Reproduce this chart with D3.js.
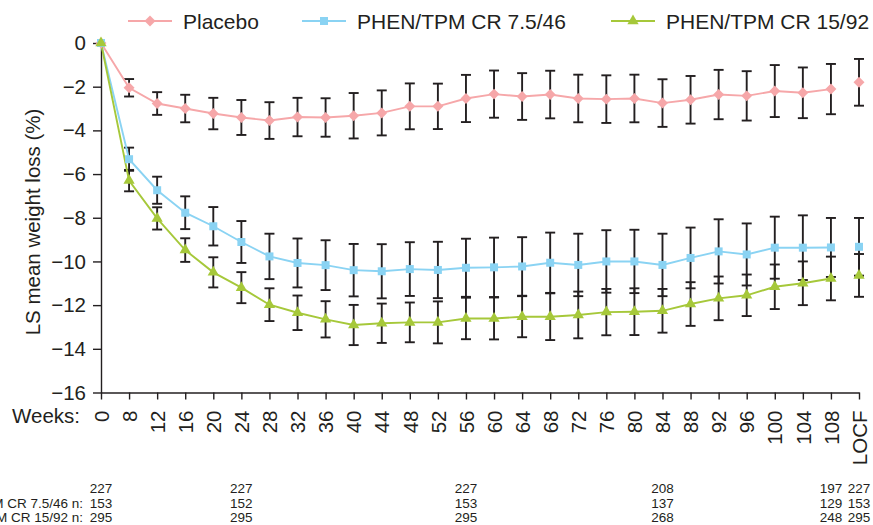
<!DOCTYPE html>
<html>
<head>
<meta charset="utf-8">
<script src="https://cdn.jsdelivr.net/npm/d3@7"></script>
<style>
  body { margin: 0; background: #fff; }
  svg { display: block; font-family: "Liberation Sans", Arial, sans-serif; }
</style>
</head>
<body>
<svg id="chart"></svg>
<script>
const width = 873;
const height = 525;

// x categories
const weeks = ["0", "8", "12", "16", "20", "24", "28", "32", "36", "40", "44", "48", "52", "56",
  "60", "64", "68", "72", "76", "80", "84", "88", "92", "96", "100", "104", "108", "LOCF"];

// LS mean weight loss (%) and error bar half-widths
const placeboMean = [0, -2.05, -2.77, -3.0, -3.23, -3.41, -3.55, -3.39, -3.41, -3.33, -3.2, -2.9, -2.9, -2.54,
  -2.34, -2.45, -2.36, -2.54, -2.57, -2.54, -2.75, -2.6, -2.36, -2.42, -2.2, -2.28, -2.11, -1.8];
const placeboErr = [0, 0.40, 0.52, 0.63, 0.72, 0.80, 0.84, 0.88, 0.88, 1.04, 1.03, 1.05, 1.04, 1.08,
  1.08, 1.07, 1.09, 1.09, 1.09, 1.09, 1.09, 1.09, 1.13, 1.13, 1.19, 1.16, 1.15, 1.07];

const lowMean = [0, -5.32, -6.74, -7.77, -8.39, -9.11, -9.77, -10.07, -10.17, -10.40, -10.45, -10.35, -10.39, -10.29,
  -10.27, -10.23, -10.06, -10.16, -10.00, -10.00, -10.16, -9.84, -9.54, -9.68, -9.37, -9.37, -9.36, -9.33];
const lowErr = [0, 0.53, 0.62, 0.75, 0.88, 0.96, 1.04, 1.12, 1.14, 1.20, 1.24, 1.23, 1.29, 1.33,
  1.36, 1.34, 1.38, 1.43, 1.43, 1.45, 1.43, 1.39, 1.47, 1.42, 1.42, 1.48, 1.35, 1.32];

const highMean = [0, -6.30, -8.03, -9.48, -10.50, -11.20, -11.98, -12.35, -12.65, -12.91, -12.83, -12.79, -12.79, -12.61,
  -12.61, -12.53, -12.53, -12.45, -12.32, -12.30, -12.26, -11.95, -11.69, -11.55, -11.16, -11.00, -10.78, -10.64];
const highErr = [0, 0.49, 0.51, 0.54, 0.69, 0.71, 0.75, 0.79, 0.83, 0.92, 0.90, 0.91, 0.96, 0.95,
  0.96, 0.94, 1.07, 1.07, 1.06, 1.07, 1.00, 1.00, 1.00, 0.95, 1.02, 1.00, 1.00, 0.98];

const yTicks = [0, -2, -4, -6, -8, -10, -12, -14, -16];

// patients at risk table
const nWeeks = ["0", "24", "56", "84", "108", "LOCF"];
const nPlacebo = [227, 227, 227, 208, 197, 227];
const nLow = [153, 152, 153, 137, 129, 153];
const nHigh = [295, 295, 295, 268, 248, 295];

const ink = "#231f20";

const series = [
  {name: "Placebo", mean: placeboMean, err: placeboErr, color: "#f6a7a9", symbol: "diamond", lx: 128},
  {name: "PHEN/TPM CR 7.5/46", mean: lowMean, err: lowErr, color: "#8ad3f3", symbol: "square", lx: 302},
  {name: "PHEN/TPM CR 15/92", mean: highMean, err: highErr, color: "#a6c83a", symbol: "triangle", lx: 611}
];

const svg = d3.select("#chart")
  .attr("width", width)
  .attr("height", height);

const x = d3.scalePoint().domain(weeks).range([101, 859]);
const y = d3.scaleLinear().domain([-16, 0]).range([392.5, 43]);

function markerPath(kind) {
  if (kind === "diamond") return d3.symbol().type(d3.symbolSquare).size(60)();
  if (kind === "square") return d3.symbol().type(d3.symbolSquare).size(64)();
  return d3.symbol().type(d3.symbolTriangle).size(55)();
}

// axes
const yAxis = svg.append("g")
  .attr("transform", "translate(101,0)")
  .call(d3.axisLeft(y).tickValues(yTicks).tickSize(8).tickPadding(7).tickSizeOuter(0));
yAxis.select(".domain").attr("stroke", ink).attr("stroke-width", 1.4);
yAxis.selectAll(".tick line").attr("stroke", ink).attr("stroke-width", 1.4);
yAxis.selectAll(".tick text")
  .attr("fill", ink)
  .attr("font-size", 20.5)
  .attr("font-family", "Liberation Sans, Arial, sans-serif");

const xAxis = svg.append("g")
  .attr("transform", "translate(0,392.5)")
  .call(d3.axisBottom(x).tickSize(7).tickSizeOuter(0));
xAxis.select(".domain").attr("stroke", ink).attr("stroke-width", 1.4);
xAxis.selectAll(".tick line").attr("stroke", ink).attr("stroke-width", 1.4);
xAxis.selectAll(".tick text")
  .attr("fill", ink)
  .attr("font-size", 20.5)
  .attr("font-family", "Liberation Sans, Arial, sans-serif")
  .attr("transform", "rotate(-90)")
  .attr("text-anchor", "end")
  .attr("x", -18)
  .attr("y", 0)
  .attr("dy", "0.35em");

svg.append("text")
  .attr("x", 80)
  .attr("y", 423)
  .attr("text-anchor", "end")
  .attr("font-size", 20.5)
  .attr("fill", ink)
  .text("Weeks:");

svg.append("text")
  .attr("transform", "translate(40,222) rotate(-90)")
  .attr("text-anchor", "middle")
  .attr("font-size", 20.5)
  .attr("fill", ink)
  .text("LS mean weight loss (%)");

// error bars
series.forEach(s => {
  const g = svg.append("g").attr("stroke", ink).attr("stroke-width", 1.9);
  weeks.forEach((w, i) => {
    if (s.err[i] === 0) return;
    const cx = x(w);
    const top = y(s.mean[i] + s.err[i]);
    const bot = y(s.mean[i] - s.err[i]);
    g.append("line").attr("x1", cx).attr("x2", cx).attr("y1", top).attr("y2", bot);
    g.append("line").attr("x1", cx - 5).attr("x2", cx + 5).attr("y1", top).attr("y2", top);
    g.append("line").attr("x1", cx - 5).attr("x2", cx + 5).attr("y1", bot).attr("y2", bot);
  });
});

// lines (LOCF point stands apart)
const line = d3.line()
  .x(d => x(d[0]))
  .y(d => y(d[1]));

series.forEach(s => {
  const pts = weeks.map((w, i) => [w, s.mean[i]]).filter(d => d[0] !== "LOCF");
  svg.append("path")
    .attr("d", line(pts))
    .attr("fill", "none")
    .attr("stroke", s.color)
    .attr("stroke-width", 1.9);
});

// markers
series.forEach(s => {
  svg.append("g").selectAll("path")
    .data(weeks.map((w, i) => [w, s.mean[i]]))
    .enter().append("path")
    .attr("d", markerPath(s.symbol))
    .attr("transform", d => `translate(${x(d[0])},${y(d[1])})` + (s.symbol === "diamond" ? " rotate(45)" : ""))
    .attr("fill", s.color);
});

// legend
series.forEach(s => {
  const g = svg.append("g").attr("transform", `translate(${s.lx},21)`);
  g.append("line").attr("x1", 0).attr("x2", 44).attr("y1", 0).attr("y2", 0)
    .attr("stroke", s.color).attr("stroke-width", 1.9);
  g.append("path")
    .attr("d", markerPath(s.symbol))
    .attr("transform", "translate(22,0)" + (s.symbol === "diamond" ? " rotate(45)" : ""))
    .attr("fill", s.color);
  g.append("text")
    .attr("x", 55)
    .attr("y", 7.5)
    .attr("font-size", 21)
    .attr("fill", ink)
    .text(s.name);
});

// numbers at risk (row labels run off the left edge, as in the source figure)
const rows = [
  {label: "", values: nPlacebo, y: 493},
  {label: "PHEN/TPM CR 7.5/46 n:", values: nLow, y: 507.5},
  {label: "PHEN/TPM CR 15/92 n:", values: nHigh, y: 521.5}
];

rows.forEach(r => {
  svg.append("text")
    .attr("x", 83)
    .attr("y", r.y)
    .attr("text-anchor", "end")
    .attr("font-size", 13.5)
    .attr("fill", ink)
    .text(r.label);
  svg.append("g").selectAll("text")
    .data(nWeeks.map((w, i) => [w, r.values[i]]))
    .enter().append("text")
    .attr("x", d => x(d[0]))
    .attr("y", r.y)
    .attr("text-anchor", "middle")
    .attr("font-size", 13.5)
    .attr("fill", ink)
    .text(d => d[1]);
});
</script>
</body>
</html>
